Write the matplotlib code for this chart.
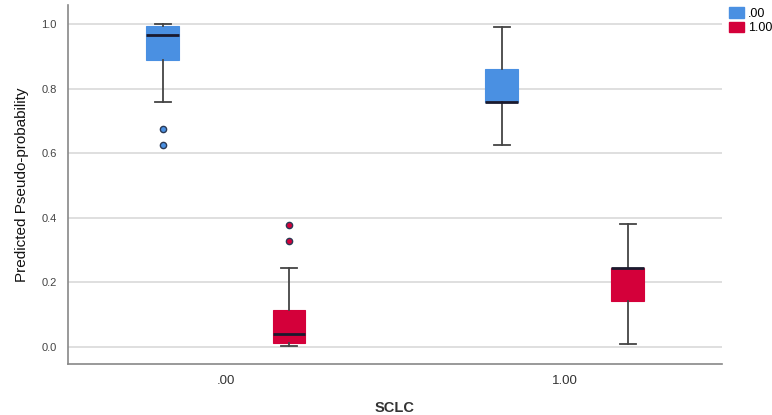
import matplotlib
matplotlib.use('Agg')
import matplotlib.pyplot as plt
from matplotlib.patches import Patch

plt.rcParams['font.family'] = ['Liberation Sans', 'DejaVu Sans']

# groups on the x axis (SCLC) and the legend series
groups = ['.00', '1.00']
series = ['.00', '1.00']
colors = ['#4a90e2', '#d4003a']

# box stats, per series, per group
q1 = [[0.889, 0.759], [0.011, 0.143]]
med = [[0.965, 0.759], [0.039, 0.245]]
q3 = [[0.994, 0.861], [0.115, 0.245]]
whislo = [[0.760, 0.625], [0.004, 0.009]]
whishi = [[1.000, 0.990], [0.244, 0.380]]
fliers = [[[0.674, 0.625], []], [[0.378, 0.329], []]]

fig = plt.figure(figsize=(7.72, 4.15), dpi=100)
ax = fig.add_axes([0.088, 0.123, 0.847, 0.865])

offset = 0.186
width = 0.097
for s in range(len(series)):
    stats = []
    for g in range(len(groups)):
        stats.append({
            'q1': q1[s][g], 'med': med[s][g], 'q3': q3[s][g],
            'whislo': whislo[s][g], 'whishi': whishi[s][g],
            'fliers': fliers[s][g],
        })
    pos = [g + (offset if s else -offset) for g in range(len(groups))]
    ax.bxp(stats, positions=pos, widths=width, patch_artist=True,
           showcaps=True, manage_ticks=False,
           boxprops=dict(facecolor=colors[s], edgecolor=colors[s], linewidth=0.8),
           medianprops=dict(color='#1a1a2e', linewidth=2),
           whiskerprops=dict(color='#444444', linewidth=1.3),
           capprops=dict(color='#444444', linewidth=1.3),
           flierprops=dict(marker='o', markersize=4.5, markerfacecolor=colors[s],
                           markeredgecolor='#2b3a55', markeredgewidth=1.0))

ax.set_xlim(-0.466, 1.463)
ax.set_ylim(-0.053, 1.059)
ax.set_xticks(range(len(groups)))
ax.set_xticklabels(groups, fontsize=9.5, color='#333333')
ax.set_yticks([0.0, 0.2, 0.4, 0.6, 0.8, 1.0])
ax.set_yticklabels(['0.0', '0.2', '0.4', '0.6', '0.8', '1.0'], fontsize=8, color='#444444')
ax.tick_params(length=0, pad=8)
ax.yaxis.grid(True, color='#d9d9d9', linewidth=1.2)
ax.set_axisbelow(True)
for side in ['top', 'right']:
    ax.spines[side].set_visible(False)
for side in ['left', 'bottom']:
    ax.spines[side].set_color('#888888')
    ax.spines[side].set_linewidth(1.2)

ax.set_ylabel('Predicted Pseudo-probability', fontsize=11, color='#111111', labelpad=9)
ax.set_xlabel('SCLC', fontsize=10.5, fontweight='bold', color='#333333', labelpad=10)

handles = [Patch(facecolor=colors[i], edgecolor=colors[i], label=series[i]) for i in range(len(series))]
fig.legend(handles=handles, loc='upper left', bbox_to_anchor=(0.935, 1.0), frameon=False,
           fontsize=9, handlelength=1.2, handleheight=0.9, handletextpad=0.3,
           labelspacing=0.15, borderaxespad=0.2)

fig.savefig('out.png', dpi=100, facecolor='white')
